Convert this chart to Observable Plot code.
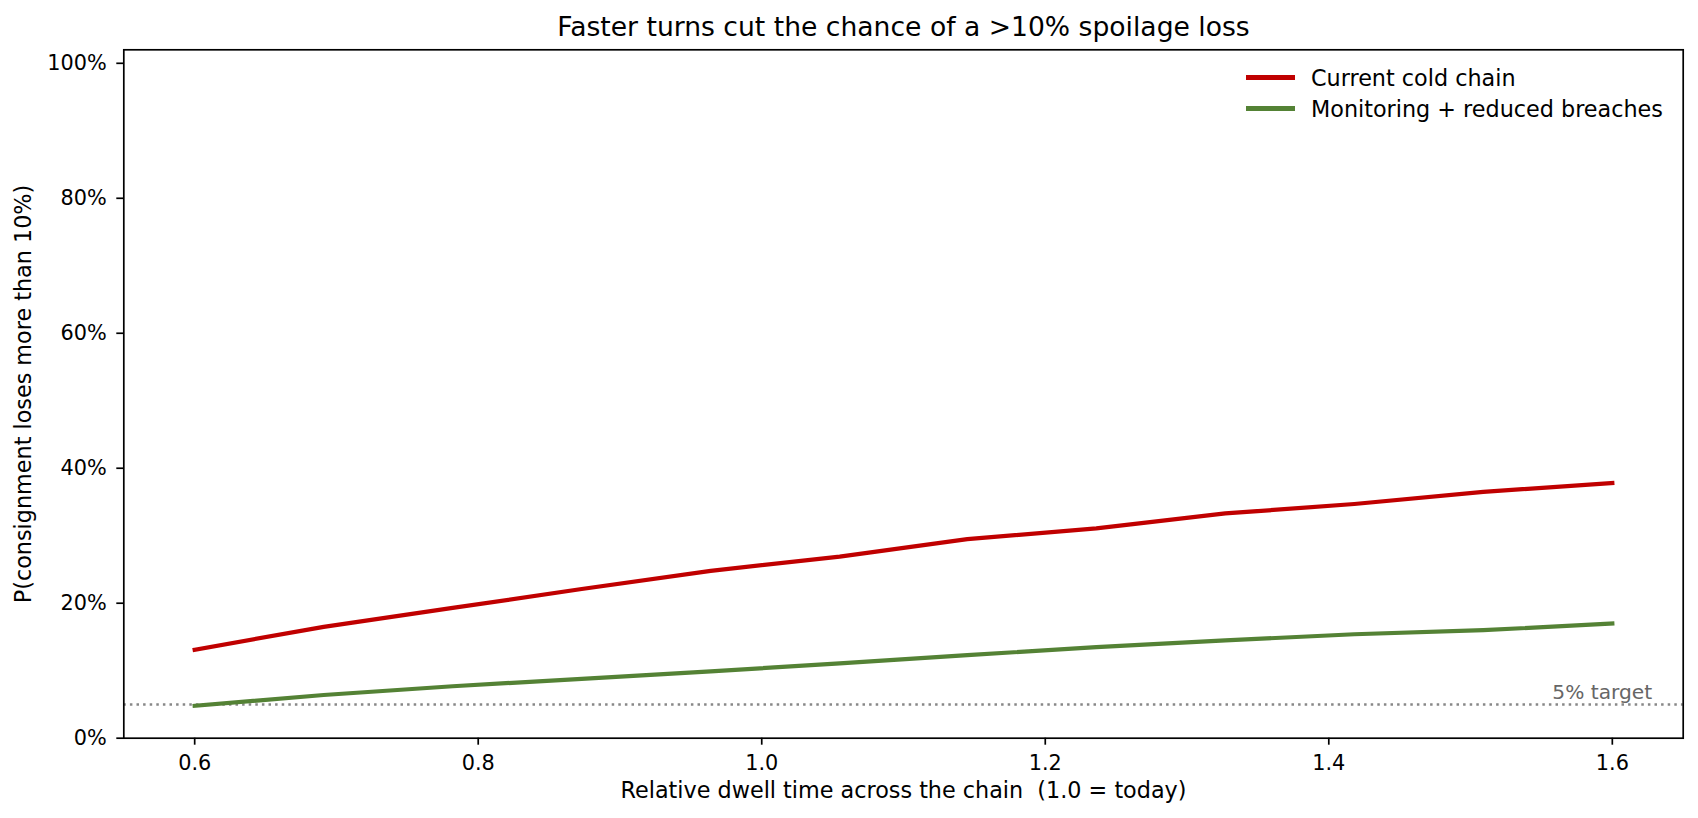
<!DOCTYPE html>
<html>
<head>
<meta charset="utf-8">
<script src="https://cdn.jsdelivr.net/npm/d3@7"></script>
<script src="https://cdn.jsdelivr.net/npm/@observablehq/plot@0.6"></script>
<style>
  html, body { margin: 0; padding: 0; background: #fff; }
  #wrap { position: relative; width: 1698px; height: 818px; font-family: "DejaVu Sans", sans-serif; }
  #legend { position: absolute; left: 1246px; top: 62px; font-size: 22.3px; color: #000; }
  #legend .row { display: flex; align-items: center; height: 31px; }
  #legend .sw { width: 49px; height: 4.2px; margin-right: 16px; }
</style>
</head>
<body>
<div id="wrap"><div id="legend"></div></div>
<script>
const title = "Faster turns cut the chance of a >10% spoilage loss";
const xLabel = "Relative dwell time across the chain\u00A0 (1.0 = today)";
const yLabel = "P(consignment loses more than 10%)";
const dwell = [0.6, 0.691, 0.782, 0.873, 0.964, 1.055, 1.145, 1.236, 1.327, 1.418, 1.509, 1.6];
const currentChain = [0.131, 0.165, 0.193, 0.221, 0.248, 0.269, 0.295, 0.311, 0.333, 0.347, 0.365, 0.378];
const monitoring = [0.048, 0.064, 0.077, 0.088, 0.099, 0.111, 0.123, 0.135, 0.145, 0.154, 0.160, 0.170];
const seriesNames = ["Current cold chain", "Monitoring + reduced breaches"];
const seriesColors = ["#c00000", "#548235"];
const targetValue = 0.05;
const targetLabel = "5% target";
const xTicks = [0.6, 0.8, 1.0, 1.2, 1.4, 1.6];
const yTicks = [0, 0.2, 0.4, 0.6, 0.8, 1.0];

const curData = dwell.map((x, i) => ({x, y: currentChain[i]}));
const monData = dwell.map((x, i) => ({x, y: monitoring[i]}));

const fs = 20.8;
const lfs = 22.3;
const chart = Plot.plot({
  width: 1698,
  height: 818,
  marginLeft: 123.3,
  marginRight: 15.3,
  marginTop: 49.3,
  marginBottom: 80.3,
  style: {fontFamily: "DejaVu Sans, sans-serif", fontSize: fs + "px", background: "#fff", color: "#000"},
  x: {domain: [0.55, 1.65]},
  y: {domain: [0, 1.02]},
  marks: [
    Plot.ruleY([targetValue], {stroke: "#888", strokeWidth: 2.5, strokeDasharray: "2.5,4.1"}),
    Plot.text([targetLabel], {frameAnchor: "right", y: () => targetValue, dx: -31, dy: -5, textAnchor: "end", lineAnchor: "bottom", fill: "#666", fontSize: 20.2}),
    Plot.line(curData, {x: "x", y: "y", stroke: seriesColors[0], strokeWidth: 4.2, strokeLinecap: "square", strokeLinejoin: "round"}),
    Plot.line(monData, {x: "x", y: "y", stroke: seriesColors[1], strokeWidth: 4.2, strokeLinecap: "square", strokeLinejoin: "round"}),
    Plot.frame({stroke: "#000", strokeWidth: 1.7}),
    Plot.axisX(xTicks, {tickSize: 7, tickPadding: 10, strokeWidth: 1.7, fontSize: fs, tickFormat: d => d.toFixed(1), label: null}),
    Plot.axisY(yTicks, {tickSize: 7, tickPadding: 10, strokeWidth: 1.7, fontSize: fs, tickFormat: d => Math.round(d * 100) + "%", label: null}),
    Plot.text([title], {frameAnchor: "top", dy: -22, textAnchor: "middle", lineAnchor: "middle", fontSize: 26.6, fill: "#000"}),
    Plot.text([xLabel], {frameAnchor: "bottom", dy: 53, textAnchor: "middle", lineAnchor: "middle", fontSize: lfs, fill: "#000"}),
    Plot.text([yLabel], {frameAnchor: "left", dx: -99.5, rotate: -90, textAnchor: "middle", lineAnchor: "middle", fontSize: lfs, fill: "#000"})
  ]
});
const wrap = document.getElementById("wrap");
wrap.insertBefore(chart, wrap.firstChild);

const legend = document.getElementById("legend");
seriesNames.forEach((name, i) => {
  const row = document.createElement("div");
  row.className = "row";
  const sw = document.createElement("div");
  sw.className = "sw";
  sw.style.background = seriesColors[i];
  const t = document.createElement("span");
  t.textContent = name;
  row.appendChild(sw);
  row.appendChild(t);
  legend.appendChild(row);
});
</script>
</body>
</html>
